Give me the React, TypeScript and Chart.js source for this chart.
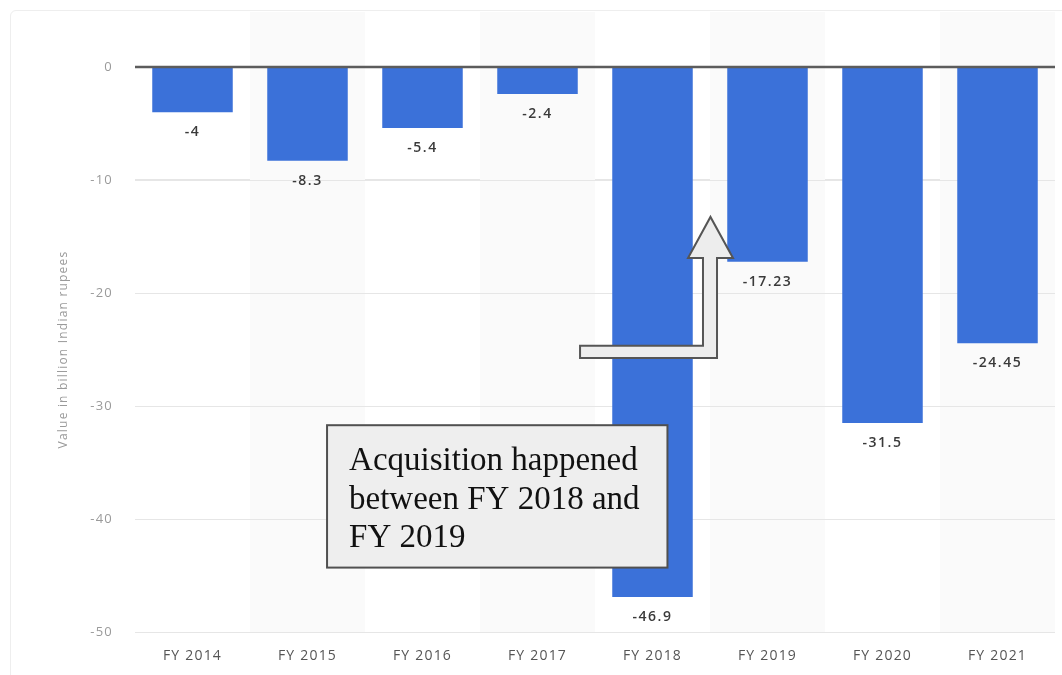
import React, { useEffect, useRef } from "react";
import { Chart, registerables } from "chart.js";

Chart.register(...registerables);

const categories = ["FY 2014", "FY 2015", "FY 2016", "FY 2017", "FY 2018", "FY 2019", "FY 2020", "FY 2021"];
const values = [-4, -8.3, -5.4, -2.4, -46.9, -17.23, -31.5, -24.45];
const valueLabels = ["-4", "-8.3", "-5.4", "-2.4", "-46.9", "-17.23", "-31.5", "-24.45"];
const yTicks = [0, -10, -20, -30, -40, -50];
const yTitle = "Value in billion Indian rupees";
const noteLines = ["Acquisition happened", "between FY 2018 and", "FY 2019"];

// annotation geometry in data units (category index, value)
const noteBox = { x0: 1.17, x1: 4.13, yTop: -31.7, yBottom: -44.3 };
const arrowPoints: [number, number][] = [
  [3.37, -24.66],
  [4.439, -24.66],
  [4.439, -16.9],
  [4.309, -16.9],
  [4.504, -13.27],
  [4.7, -16.9],
  [4.561, -16.9],
  [4.561, -25.75],
  [3.37, -25.75],
];

const BAR_COLOR = "#3b71d9";

const bandsPlugin = {
  id: "bands",
  beforeDatasetsDraw(chart: any) {
    const { ctx, chartArea, scales } = chart;
    const xs = scales.x;
    const half = (xs.getPixelForValue(1) - xs.getPixelForValue(0)) / 2;
    ctx.save();
    ctx.fillStyle = "#fafafa";
    for (let i = 1; i < categories.length; i += 2) {
      const cx = xs.getPixelForValue(i);
      ctx.fillRect(cx - half, chartArea.top - 55, half * 2, chartArea.bottom - chartArea.top + 55);
    }
    const ys = scales.y;
    ctx.strokeStyle = "#e6e6e6";
    ctx.lineWidth = 1;
    yTicks.forEach((t) => {
      if (t === 0) return;
      const y = Math.round(ys.getPixelForValue(t)) + 0.5;
      ctx.beginPath();
      ctx.moveTo(chartArea.left, y);
      ctx.lineTo(chartArea.right, y);
      ctx.stroke();
    });
    ctx.restore();
  },
};

const labelsPlugin = {
  id: "valueLabels",
  afterDatasetsDraw(chart: any) {
    const { ctx, scales, chartArea } = chart;
    const meta = chart.getDatasetMeta(0);
    ctx.save();
    const y0 = scales.y.getPixelForValue(0);
    ctx.strokeStyle = "#5c5c5c";
    ctx.lineWidth = 2.5;
    ctx.beginPath();
    ctx.moveTo(chartArea.left, y0);
    ctx.lineTo(chartArea.right, y0);
    ctx.stroke();

    ctx.fillStyle = "#3a3a3a";
    ctx.font = "600 14px 'Open Sans', sans-serif";
    (ctx as any).letterSpacing = "1.5px";
    ctx.textAlign = "center";
    ctx.textBaseline = "middle";
    meta.data.forEach((bar: any, i: number) => {
      ctx.fillText(valueLabels[i], bar.x, bar.y + 20);
    });
    (ctx as any).letterSpacing = "0px";

    const xs = scales.x;
    const ys = scales.y;
    ctx.beginPath();
    arrowPoints.forEach(([a, b], k) => {
      const px = xs.getPixelForValue(a);
      const py = ys.getPixelForValue(b);
      if (k === 0) ctx.moveTo(px, py);
      else ctx.lineTo(px, py);
    });
    ctx.closePath();
    ctx.fillStyle = "#ededed";
    ctx.fill();
    ctx.strokeStyle = "#555555";
    ctx.lineWidth = 2;
    ctx.lineJoin = "miter";
    ctx.stroke();

    const bx0 = xs.getPixelForValue(noteBox.x0);
    const bx1 = xs.getPixelForValue(noteBox.x1);
    const by0 = ys.getPixelForValue(noteBox.yTop);
    const by1 = ys.getPixelForValue(noteBox.yBottom);
    ctx.fillStyle = "#eeeeee";
    ctx.fillRect(bx0, by0, bx1 - bx0, by1 - by0);
    ctx.strokeStyle = "#505050";
    ctx.lineWidth = 2;
    ctx.strokeRect(bx0, by0, bx1 - bx0, by1 - by0);

    ctx.fillStyle = "#111111";
    ctx.font = "33px 'Liberation Serif', 'Times New Roman', serif";
    ctx.textAlign = "left";
    ctx.textBaseline = "alphabetic";
    noteLines.forEach((line, k) => {
      ctx.fillText(line, bx0 + 22, by0 + 45 + k * 38.5);
    });
    ctx.restore();
  },
};

const spacingPlugin = {
  id: "spacing",
  beforeDraw(chart: any) {
    (chart.ctx as any).letterSpacing = "1.2px";
  },
  afterDraw(chart: any) {
    (chart.ctx as any).letterSpacing = "0px";
  },
};

export default function App() {
  const ref = useRef<HTMLCanvasElement | null>(null);

  useEffect(() => {
    if (!ref.current) return;
    const chart = new Chart(ref.current, {
      type: "bar",
      data: {
        labels: categories,
        datasets: [
          {
            data: values,
            backgroundColor: BAR_COLOR,
            borderWidth: 0,
            barPercentage: 0.7,
            categoryPercentage: 1,
          },
        ],
      },
      options: {
        animation: false,
        responsive: true,
        maintainAspectRatio: false,
        layout: { padding: { left: 56, right: 7, top: 67, bottom: 0 } },
        plugins: {
          legend: { display: false },
          tooltip: { enabled: false },
          title: { display: false },
        },
        scales: {
          x: {
            grid: { display: false, drawTicks: false },
            border: { display: false },
            ticks: {
              color: "#555555",
              font: { family: "'Open Sans', sans-serif", size: 14 },
              padding: 16,
              maxRotation: 0,
            },
            afterFit(scale: any) {
              scale.height = 43;
            },
          },
          y: {
            min: -50,
            max: 0,
            grid: {
              color: (c: any) => (c.tick && c.tick.value === 0 ? "rgba(0,0,0,0)" : "#e6e6e6"),
              drawTicks: false,
            },
            border: { display: false },
            ticks: {
              stepSize: 10,
              color: "#9a9a9a",
              font: { family: "'Open Sans', sans-serif", size: 13 },
              padding: 22,
              callback: (v: any) => String(v),
            },
            title: {
              display: true,
              text: yTitle,
              color: "#9a9a9a",
              font: { family: "'Open Sans', sans-serif", size: 12 },
              padding: { top: 0, bottom: 0 },
            },
            afterFit(scale: any) {
              scale.width = 135 - 56;
            },
          },
        },
      },
      plugins: [spacingPlugin, bandsPlugin, labelsPlugin],
    });
    return () => chart.destroy();
  }, []);

  return (
    <div
      style={{
        position: "fixed",
        left: 0,
        top: 0,
        width: 1062,
        height: 675,
        overflow: "hidden",
        background: "#ffffff",
      }}
    >
      <div
        style={{
          position: "absolute",
          left: 10,
          top: 10,
          width: 1100,
          height: 700,
          border: "1px solid #eeeeee",
          borderRadius: 6,
          boxSizing: "border-box",
        }}
      />
      <div style={{ position: "absolute", left: 0, top: 0, width: 1062, height: 675 }}>
        <canvas ref={ref} />
      </div>
    </div>
  );
}
